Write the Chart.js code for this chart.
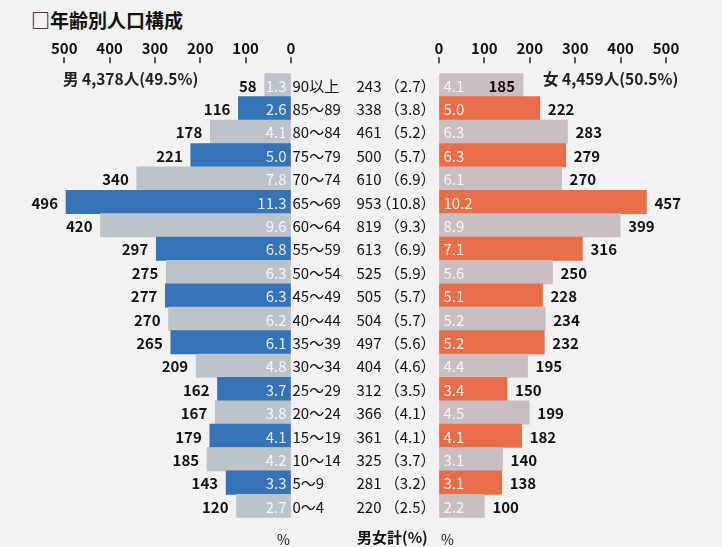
<!DOCTYPE html>
<html lang="ja">
<head>
<meta charset="utf-8">
<script src="https://cdn.jsdelivr.net/npm/chart.js@4"></script>
<style>
    body { margin: 0; background: #f3f2f0; width: 722px; height: 547px; overflow: hidden; position: relative; font-family: "Noto Sans CJK JP", sans-serif; color: #111; }
    #titulo { position: absolute; left: 31px; top: 6px; font-size: 19px; font-weight: bold; }
    #izq { position: absolute; left: 0; top: 0; }
    #der { position: absolute; left: 430px; top: 0; }
    .nota { position: absolute; font-size: 14px; line-height: 18px; white-space: nowrap; }
    .cab { font-size: 15.5px; font-weight: bold; top: 69px; color: #222; }
</style>
</head>
<body>
<div id="titulo">□年齢別人口構成</div>
<canvas id="izq" width="440" height="547"></canvas>
<canvas id="der" width="292" height="547"></canvas>
<div class="nota cab" style="left:63px">男 4,378人(49.5%)</div>
<div class="nota cab" style="left:543px">女 4,459人(50.5%)</div>
<div class="nota" style="left:277px;top:530px">%</div>
<div class="nota" style="left:357px;top:528px;font-size:15px;font-weight:bold">男女計(%)</div>
<div class="nota" style="left:441px;top:530px">%</div>
<script>
const edades = ['90以上', '85～89', '80～84', '75～79', '70～74', '65～69', '60～64', '55～59', '50～54', '45～49',
    '40～44', '35～39', '30～34', '25～29', '20～24', '15～19', '10～14', '5～9', '0～4'];
const hombres = [58, 116, 178, 221, 340, 496, 420, 297, 275, 277, 270, 265, 209, 162, 167, 179, 185, 143, 120];
const hombresPct = [1.3, 2.6, 4.1, 5.0, 7.8, 11.3, 9.6, 6.8, 6.3, 6.3, 6.2, 6.1, 4.8, 3.7, 3.8, 4.1, 4.2, 3.3, 2.7];
const mujeres = [185, 222, 283, 279, 270, 457, 399, 316, 250, 228, 234, 232, 195, 150, 199, 182, 140, 138, 100];
const mujeresPct = [4.1, 5.0, 6.3, 6.3, 6.1, 10.2, 8.9, 7.1, 5.6, 5.1, 5.2, 5.2, 4.4, 3.4, 4.5, 4.1, 3.1, 3.1, 2.2];
const totales = [243, 338, 461, 500, 610, 953, 819, 613, 525, 505, 504, 497, 404, 312, 366, 361, 325, 281, 220];
const totalesPct = [2.7, 3.8, 5.2, 5.7, 6.9, 10.8, 9.3, 6.9, 5.9, 5.7, 5.7, 5.6, 4.6, 3.5, 4.1, 4.1, 3.7, 3.2, 2.5];
const ticksX = [0, 100, 200, 300, 400, 500];

const fuente = '"Noto Sans CJK JP", sans-serif';

// colores alternados por fila
const coloresH = edades.map((e, i) => i % 2 ? '#3572b6' : '#bcc3ca');
const coloresM = edades.map((e, i) => i % 2 ? '#e86e49' : '#c8bec3');

const ejeX = (invertido) => ({
    type: 'linear',
    position: 'top',
    reverse: invertido,
    min: 0,
    max: 500,
    afterBuildTicks: (s) => { s.ticks = ticksX.map(v => ({ value: v })); },
    afterFit: (s) => { s.height = 34; },
    ticks: { padding: 0, color: '#111', font: { family: fuente, size: 15, weight: 'bold' } },
    // el espacio de las marcas queda reservado, las marcas se dibujan aparte
    grid: { drawOnChartArea: false, tickLength: 16, tickColor: 'rgba(0,0,0,0)' },
    border: { display: false }
});

// marcas cortas bajo los numeros del eje
const marcasEje = {
    id: 'marcasEje',
    afterDraw(chart) {
        const ctx = chart.ctx;
        const x = chart.scales.x;
        const arriba = chart.chartArea.top;
        ctx.save();
        ctx.strokeStyle = '#222';
        ctx.lineWidth = 1.5;
        ticksX.forEach(v => {
            const px = Math.round(x.getPixelForValue(v));
            ctx.beginPath();
            ctx.moveTo(px, arriba - 16);
            ctx.lineTo(px, arriba - 10);
            ctx.stroke();
        });
        ctx.restore();
    }
};

// etiquetas del lado de hombres y columna central
const etiquetasIzq = {
    id: 'etiquetasIzq',
    afterDatasetsDraw(chart) {
        const ctx = chart.ctx;
        const meta = chart.getDatasetMeta(0);
        ctx.save();
        ctx.textBaseline = 'middle';
        meta.data.forEach((bar, i) => {
            const y = bar.y + 1;
            ctx.font = 'bold 15px ' + fuente;
            ctx.fillStyle = '#111';
            ctx.textAlign = 'right';
            ctx.fillText(hombres[i], bar.x - 8, y);

            ctx.font = '15px ' + fuente;
            ctx.fillStyle = 'rgba(255,255,255,0.85)';
            ctx.fillText(hombresPct[i].toFixed(1), bar.base - 4, y);

            ctx.fillStyle = '#111';
            ctx.textAlign = 'left';
            ctx.fillText(edades[i], bar.base + 2, y);
            ctx.textAlign = 'right';
            ctx.fillText(totales[i], bar.base + 91, y);
            ctx.fillText('（' + totalesPct[i].toFixed(1) + '）', bar.base + 145, y);
        });
        ctx.restore();
    }
};

// etiquetas del lado de mujeres
const etiquetasDer = {
    id: 'etiquetasDer',
    afterDatasetsDraw(chart) {
        const ctx = chart.ctx;
        const meta = chart.getDatasetMeta(0);
        ctx.save();
        ctx.textBaseline = 'middle';
        meta.data.forEach((bar, i) => {
            const y = bar.y + 1;
            ctx.font = 'bold 15px ' + fuente;
            ctx.fillStyle = '#111';
            if (i === 0) {
                ctx.textAlign = 'right';
                ctx.fillText(mujeres[i], bar.x - 8, y);
            } else {
                ctx.textAlign = 'left';
                ctx.fillText(mujeres[i], bar.x + 8, y);
            }
            ctx.font = '15px ' + fuente;
            ctx.fillStyle = 'rgba(255,255,255,0.85)';
            ctx.textAlign = 'left';
            ctx.fillText(mujeresPct[i].toFixed(1), bar.base + 4, y);
        });
        ctx.restore();
    }
};

const opcionesBase = (invertido, padding) => ({
    indexAxis: 'y',
    responsive: false,
    animation: false,
    devicePixelRatio: 1,
    layout: { padding: padding },
    plugins: { legend: { display: false }, tooltip: { enabled: false } },
    scales: {
        x: ejeX(invertido),
        y: { display: false }
    }
});

new Chart(document.getElementById('izq').getContext('2d'), {
    type: 'bar',
    data: {
        labels: edades,
        datasets: [{
            data: hombres,
            backgroundColor: coloresH,
            barPercentage: 1,
            categoryPercentage: 1
        }]
    },
    options: opcionesBase(true, { top: 39.3, bottom: 29.3, left: 64.2, right: 149 }),
    plugins: [etiquetasIzq, marcasEje]
});

new Chart(document.getElementById('der').getContext('2d'), {
    type: 'bar',
    data: {
        labels: edades,
        datasets: [{
            data: mujeres,
            backgroundColor: coloresM,
            barPercentage: 1,
            categoryPercentage: 1
        }]
    },
    options: opcionesBase(false, { top: 39.3, bottom: 29.3, left: 9, right: 56 }),
    plugins: [etiquetasDer, marcasEje]
});
</script>
</body>
</html>
